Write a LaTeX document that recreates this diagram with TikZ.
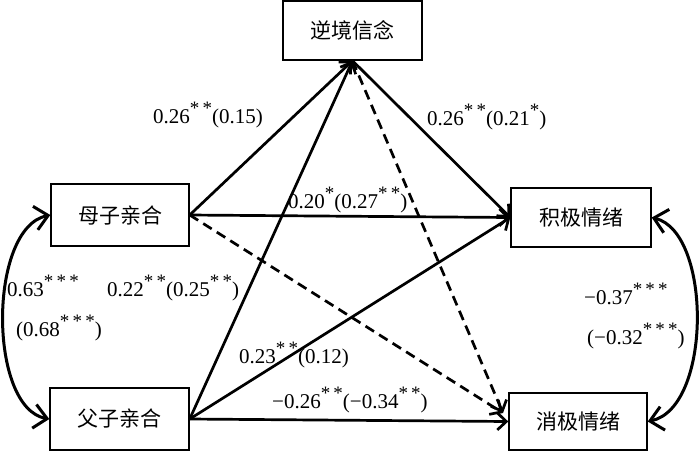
\documentclass[tikz,border=0pt]{standalone}
\usepackage{fontspec}
\setmainfont{Liberation Serif}
\newfontfamily\cjk{Noto Sans CJK SC}
\usetikzlibrary{arrows.meta}
\newcommand\sig[1]{\raisebox{0.40em}{\fontsize{19}{19}\selectfont #1}}
\begin{document}
\begin{tikzpicture}[x=1pt,y=-1pt,
  box/.style={draw,line width=1.4pt,inner sep=0pt,font=\cjk\fontsize{21}{21}\selectfont},
  arr/.style={line width=2.7pt,-{Straight Barb[length=9pt,width=17pt]}},
  dsh/.style={arr,dash pattern=on 10pt off 6pt},
  dbl/.style={line width=3pt,{Straight Barb[length=13pt,width=24pt]}-{Straight Barb[length=13pt,width=24pt]}},
  lab/.style={anchor=base west,inner sep=0pt,font=\fontsize{21}{21}\selectfont}]
\useasboundingbox (0,0) rectangle (700,451);
\fill[white] (0,0) rectangle (700,451);
\node[box,minimum width=139pt,minimum height=59pt] (nj) at (352.5,30.5) {逆境信念};
\node[box,minimum width=138pt,minimum height=62pt] (mz) at (120,215) {母子亲合};
\node[box,minimum width=139pt,minimum height=62pt] (fz) at (119.5,419) {父子亲合};
\node[box,minimum width=140pt,minimum height=59pt] (jj) at (581,217.5) {积极情绪};
\node[box,minimum width=138pt,minimum height=57pt] (xj) at (578,421.5) {消极情绪};
\coordinate (xjt) at (503,413);
\draw[arr] (mz.east) -- (nj.south);
\draw[arr] (fz.east) -- (nj.south);
\draw[arr] (nj.south) -- (jj.west);
\draw[arr] (mz.east) -- (jj.west);
\draw[arr] (fz.east) -- (jj.west);
\draw[arr] (fz.east) -- (xj.west);
\draw[dsh] (mz.east) -- (xjt);
\draw[dsh] (nj.south) -- (xjt);
\draw[dbl] (mz.west) .. controls (-12,228) and (-12,408) .. (fz.west);
\draw[dbl] (jj.east) .. controls (712,232) and (712,408) .. (xj.east);
\node[lab] (l1) at (153,123) {0.26\sig{*\,*}(0.15)};
\node[lab] (l2) at (427,125) {0.26\sig{*\,*}(0.21\sig{*})};
\node[lab] (l3) at (288,208) {0.20\sig{*}(0.27\sig{*\,*})};
\node[lab] (l4) at (7,296) {0.63\sig{*\,*\,*}};
\node[lab] (l5) at (107,296) {0.22\sig{*\,*}(0.25\sig{*\,*})};
\node[lab] (l6) at (16,336) {(0.68\sig{*\,*\,*})};
\node[lab] (l7) at (239,363) {0.23\sig{*\,*}(0.12)};
\node[lab] (l8) at (272,408) {−0.26\sig{*\,*}(−0.34\sig{*\,*})};
\node[lab] (l9) at (584,304) {−0.37\sig{*\,*\,*}};
\node[lab] (l10) at (587,344) {(−0.32\sig{*\,*\,*})};
\end{tikzpicture}
\end{document}
